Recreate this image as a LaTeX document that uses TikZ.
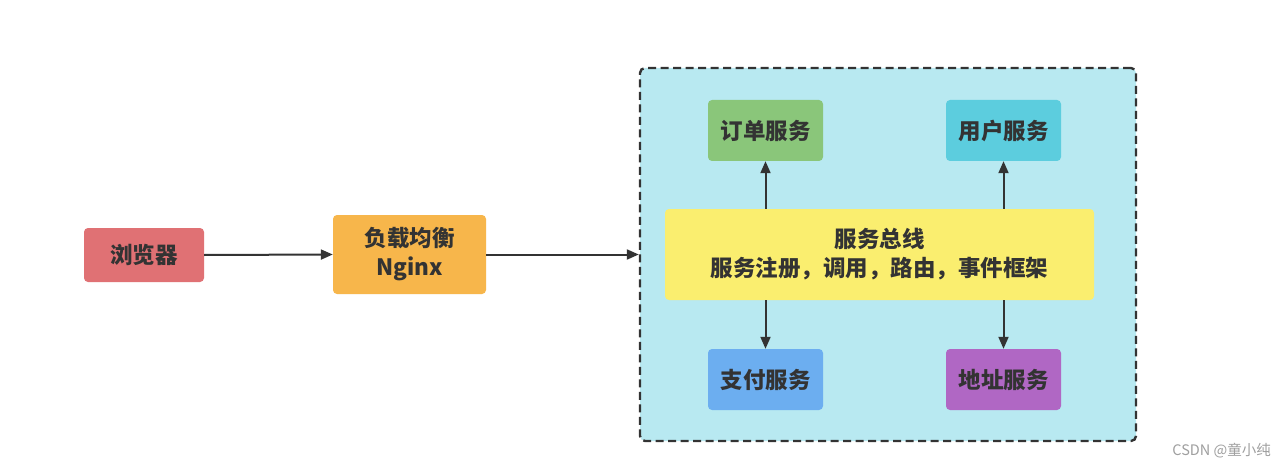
\documentclass[tikz,border=0pt]{standalone}
\usepackage{fontspec}
\setmainfont{Noto Sans CJK SC}
\usetikzlibrary{arrows.meta}
\definecolor{txt}{HTML}{333333}
\definecolor{cred}{HTML}{E07174}
\definecolor{corange}{HTML}{F7B64B}
\definecolor{ccyanbg}{HTML}{B8E9F1}
\definecolor{cgreen}{HTML}{8AC67A}
\definecolor{ccyan}{HTML}{5CCDDE}
\definecolor{cyellow}{HTML}{FAEE6F}
\definecolor{cblue}{HTML}{6CAEF0}
\definecolor{cpurple}{HTML}{B067C4}
\begin{document}
\begin{tikzpicture}[x=1pt,y=-1pt,
  box/.style={rounded corners=4pt,inner sep=0pt,font=\fontsize{22.5}{29}\selectfont\bfseries,text=txt,align=center},
  conn/.style={draw=txt,line width=2pt,-{Triangle[length=12pt,width=10pt]}}]
\useasboundingbox (0,0) rectangle (1285,468);
\fill[white] (0,0) rectangle (1285,468);
% container
\node[draw=txt,fill=ccyanbg,line width=2.4pt,dash pattern=on 8pt off 4.5pt,rounded corners=5pt,minimum width=496pt,minimum height=373pt,inner sep=0pt] (cont) at (888,254.5) {};
\node[box,fill=cred,minimum width=120pt,minimum height=54pt] (browser) at (144,255) {浏览器};
\node[box,fill=corange,minimum width=153pt,minimum height=79pt] (nginx) at (409.5,254.5) {负载均衡\\Nginx};
\node[box,fill=cyellow,minimum width=429pt,minimum height=91pt] (bus) at (879.5,254.5) {服务总线\\服务注册，调用，路由，事件框架};
\node[box,fill=cgreen,minimum width=115pt,minimum height=61pt] (order) at (765.5,130.5) {订单服务};
\node[box,fill=ccyan,minimum width=115pt,minimum height=61pt] (user) at (1003.5,130.5) {用户服务};
\node[box,fill=cblue,minimum width=115pt,minimum height=61pt] (pay) at (765.5,379.5) {支付服务};
\node[box,fill=cpurple,minimum width=115pt,minimum height=61pt] (addr) at (1003.5,379.5) {地址服务};
\draw[conn] (browser.east) -- (nginx.west);
\draw[conn] (nginx.east) -- (cont.west |- nginx.east);
\draw[conn] (bus.north -| order.south) -- (order.south);
\draw[conn] (bus.north -| user.south) -- (user.south);
\draw[conn] (bus.south -| pay.north) -- (pay.north);
\draw[conn] (bus.south -| addr.north) -- (addr.north);
\node[text=gray!75,font=\fontsize{14.5}{16}\selectfont,anchor=east,inner sep=0pt] (wm) at (1271,451) {CSDN @童小纯};
\end{tikzpicture}
\end{document}
